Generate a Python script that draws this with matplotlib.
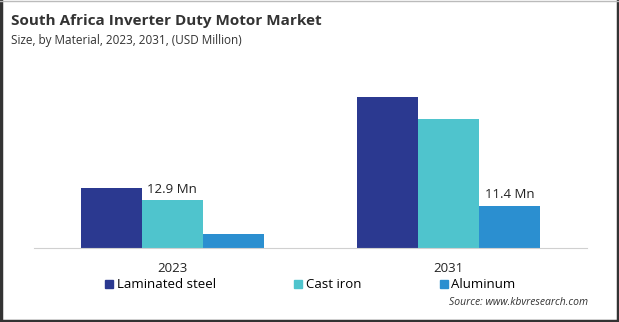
import numpy as np
import matplotlib.pyplot as plt
from matplotlib.lines import Line2D

years = ['2023', '2031']
materials = ['Laminated steel', 'Cast iron', 'Aluminum']
laminated_steel = [16.1, 40.6]
cast_iron = [12.9, 34.7]
aluminum = [3.8, 11.4]
colors = ['#2B3990', '#4FC4CD', '#2B8FD0']

plt.rcParams['font.family'] = ['Open Sans', 'DejaVu Sans']

fig = plt.figure(figsize=(6.19, 3.22), dpi=100)
ax = fig.add_axes([0.055, 0.2298, 0.893, 0.52])

x = np.arange(len(years))
w = 0.221
series = [laminated_steel, cast_iron, aluminum]
for i, (vals, c, name) in enumerate(zip(series, colors, materials)):
    ax.bar(x + (i - 1) * w, vals, width=w, color=c, label=name)

# value labels
ax.text(x[0], cast_iron[0] + 1.2, '12.9 Mn', ha='center', va='bottom',
        fontsize=9.5, color='#222222')
ax.text(x[1] + w, aluminum[1] + 1.2, '11.4 Mn', ha='center', va='bottom',
        fontsize=9.5, color='#222222')

ax.set_xlim(-0.5, 1.5)
ax.set_ylim(0, 45)
ax.set_xticks(x)
ax.set_xticklabels(years, fontsize=9.5, color='#222222')
ax.tick_params(axis='x', length=0, pad=10)
ax.set_yticks([])
for s in ['top', 'right', 'left']:
    ax.spines[s].set_visible(False)
ax.spines['bottom'].set_color('#d0d0d0')

# title and subtitle
fig.text(0.018, 0.935, 'South Africa Inverter Duty Motor Market',
         fontsize=11, fontweight='bold', color='#333333', va='center')
fig.text(0.018, 0.875, 'Size, by Material, 2023, 2031, (USD Million)',
         fontsize=8.5, color='#333333', va='center')

# legend
handles = [Line2D([], [], marker='s', linestyle='', markersize=6,
                  color=c) for c in colors]
fig.legend(handles, materials, loc='center left', ncol=3,
           bbox_to_anchor=(0.147, 0.115), frameon=False, fontsize=9.5,
           handletextpad=0.1, columnspacing=5.7, handlelength=1.0)

fig.text(0.95, 0.06, 'Source: www.kbvresearch.com', fontsize=7.5,
         style='italic', color='#333333', ha='right', va='center')

# frame around image
fig.add_artist(Line2D([0.002, 0.002], [0, 1], transform=fig.transFigure,
                      color='#333333', lw=2.5))
fig.add_artist(Line2D([0.998, 0.998], [0, 1], transform=fig.transFigure,
                      color='#333333', lw=2.5))
fig.add_artist(Line2D([0, 1], [0.004, 0.004], transform=fig.transFigure,
                      color='#333333', lw=2.5))
fig.add_artist(Line2D([0, 1], [0.998, 0.998], transform=fig.transFigure,
                      color='#bbbbbb', lw=1))

fig.savefig('out.png', dpi=100)
